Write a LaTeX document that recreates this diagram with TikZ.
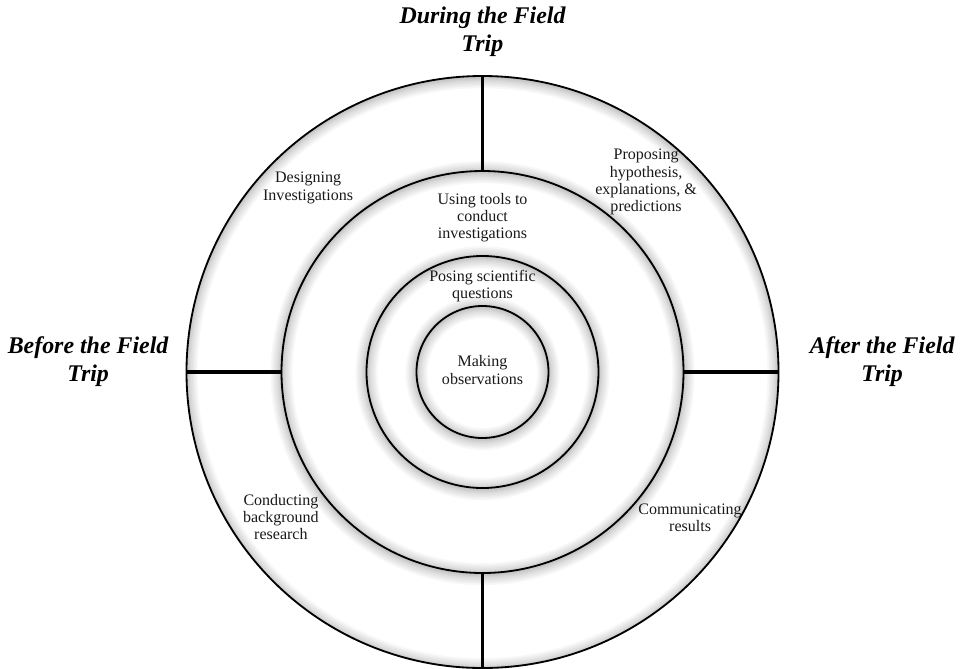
\documentclass[tikz,border=0pt]{standalone}
\usepackage{fontspec}
\setmainfont{Liberation Serif}
\usepackage{tikz}
\usetikzlibrary{positioning}

\begin{document}
\begin{tikzpicture}[
    phase/.style={font=\fontsize{17}{20}\selectfont\bfseries\itshape, text=black, align=center},
    step label/.style={font=\fontsize{11.4}{12.2}\selectfont, text=black!90, align=center},
    ring/.style={draw=black, circle, minimum size=#1, inner sep=0pt, outer sep=0pt, line width=1.3pt},
    divider/.style={draw=black, line width=2.4pt}
]
\useasboundingbox (-12.0625,-7.4) rectangle (11.9375,9.3);

% soft shading along the rings
\begin{scope}
\clip (0,0) circle (7.4);
\foreach \r in {7.4,5.025,2.9,1.65}
  \foreach \w in {0.05,0.1,0.16,0.22,0.3,0.38,0.46,0.55}
    \draw[black, opacity=0.03, line width=\w cm] (0,-0.03) circle (\r);
\end{scope}

\node[ring=14.8cm] (outerring) at (0,0) {};
\node[ring=10.05cm] (toolring) at (0,0) {};
\node[ring=5.8cm] (questionring) at (0,0) {};
\node[ring=3.3cm] (corering) at (0,0) {};

\draw[divider] (outerring.north) -- (toolring.north);
\draw[divider] (outerring.west) -- (toolring.west);
\draw[divider] (outerring.east) -- (toolring.east);
\draw[divider] (outerring.south) -- (toolring.south);

\node[phase] (during) at (0,8.5) {During the Field\\Trip};
\node[phase] (before) at (-9.86,0.25) {Before the Field\\Trip};
\node[phase] (after) at (9.99,0.25) {After the Field\\Trip};

\node[step label] (designing) at (-4.36,4.6) {Designing\\[1pt]Investigations};
\node[step label] (proposing) at (4.09,4.75) {Proposing\\hypothesis,\\explanations, \&\\predictions};
\node[step label] (conducting) at (-5.04,-3.63) {Conducting\\background\\research};
\node[step label] (communicating) at (5.19,-3.65) {Communicating\\results};
\node[step label] (tools) at (0,3.85) {Using tools to\\conduct\\investigations};
\node[step label] (posing) at (0,2.15) {Posing scientific\\questions};
\node[step label] (making) at (0,0.05) {Making\\observations};
\end{tikzpicture}
\end{document}
